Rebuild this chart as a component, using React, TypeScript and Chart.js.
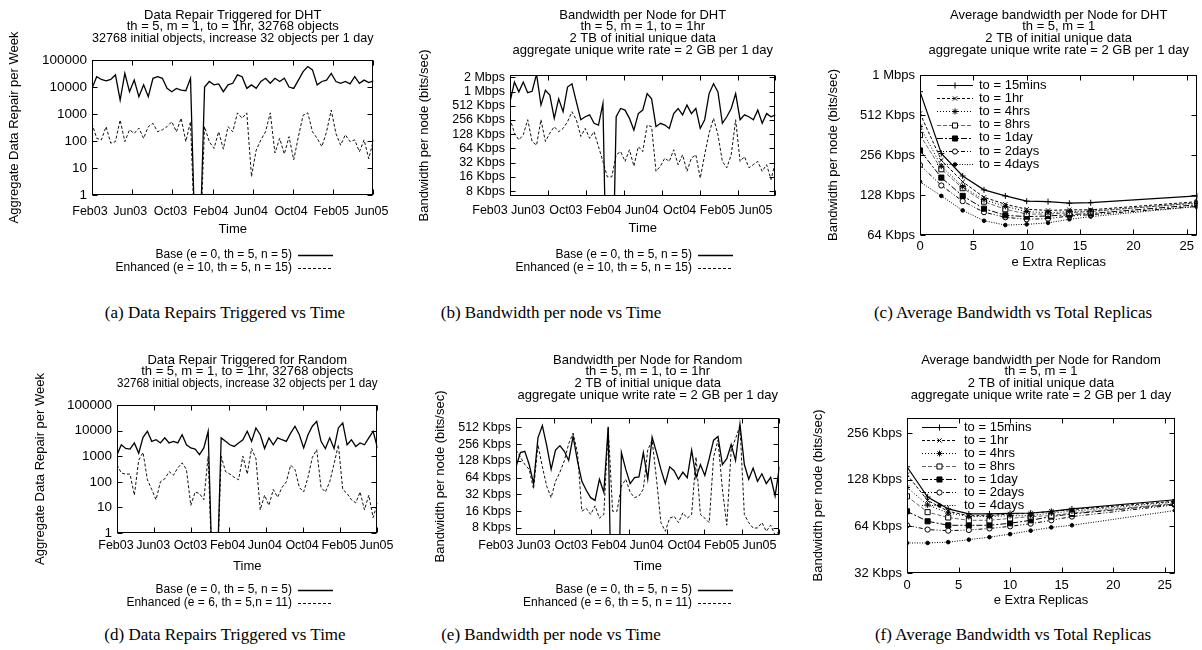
import React, { useEffect, useRef } from "react";
import { Chart, registerables } from "chart.js";

Chart.register(...registerables);

const SANS = "'Liberation Sans', Arial, Helvetica, sans-serif";
const SERIF = "'Liberation Serif', 'Times New Roman', Times, serif";

// ---------------- time axis (months counted from Jan 2003 = 0) ----------------
const timeTickLabels = ["Feb03", "Jun03", "Oct03", "Feb04", "Jun04", "Oct04", "Feb05", "Jun05"];
const timeTickMonths = [1, 5, 9, 13, 17, 21, 25, 29];
const timeAxisMin = 1;
const timeAxisMax = 29;
// sampling grid of the simulation output (61 samples from Feb03 to Jun05)
const sampleMonths = Array.from({ length: 61 }, (_, i) => 1 + (i * 28) / 60);

// value used for weeks where nothing was recorded (falls below the log-axis floor)
const NONE = 0.01;

// ---------------- (a) Data repairs, DHT ----------------
const dhtRepairBase = [8900, 24000, 19000, 17000, 19000, 28000, 3300, 32000, 6700, 18000, 4400, 12000, 4400, 21000, 24000, 21000, 8900, 6700, 8900, 7700, 7300, 21000, NONE, NONE, 10000, 16000, 12000, 13000, 6700, 12000, 13700, 28000, 24000, 8900, 12000, 8900, 16000, 21000, 13700, 21000, 16000, 21000, 10000, 8900, 18000, 37000, 57000, 43000, 12000, 16000, 18000, 32000, 16000, 13700, 16000, 13000, 24000, 13700, 18000, 14500, 17000];
const dhtRepairEnhanced = [450, 125, 110, 340, 83, 95, 600, 95, 260, 190, 300, 125, 340, 450, 220, 260, 340, 520, 220, 700, 95, 520, NONE, NONE, 340, 95, 53, 220, 50, 340, 220, 1100, 700, 1100, 4.8, 46, 110, 220, 1100, 36, 125, 33, 145, 20, 145, 900, 1100, 220, 125, 62, 220, 1400, 190, 70, 170, 95, 110, 40, 110, 22, 110];

// ---------------- (b) Bandwidth per node, DHT (Kbps) ----------------
const dhtBwBase = [620, 1630, 1010, 1630, 970, 1040, 2400, 530, 1090, 860, 278, 720, 383, 1280, 1500, 620, 260, 300, 330, 218, 200, 570, NONE, NONE, 300, 450, 415, 278, 157, 350, 415, 930, 720, 185, 218, 200, 170, 350, 450, 330, 530, 350, 450, 170, 260, 930, 1500, 1010, 218, 300, 450, 930, 260, 330, 300, 260, 415, 218, 350, 300, 330];
const dhtBwEnhanced = [278, 135, 97, 125, 260, 90, 75, 260, 90, 135, 185, 145, 170, 235, 383, 260, 115, 170, 105, 145, 70, 34, 16, 16, 47, 55, 34, 60, 27, 70, 55, 200, 185, 21, 27, 40, 34, 60, 29, 47, 21, 40, 47, 15, 47, 135, 278, 125, 34, 25, 47, 260, 34, 43, 25, 29, 34, 21, 29, 14, 34];

// ---------------- (d) Data repairs, Random ----------------
const randRepairBase = [1150, 2800, 2000, 1900, 3300, 1300, 5500, 9400, 3800, 4400, 3300, 5200, 3300, 3800, 3300, 6900, 2800, 2100, 1900, 1150, 2100, 9400, NONE, NONE, 5200, 3800, 2800, 2400, 3300, 4400, 9400, 3800, 12700, 6900, 2000, 5200, 2800, 5200, 4400, 3800, 8000, 14800, 6900, 2100, 6900, 14800, 23000, 3800, 2000, 5200, 2000, 12700, 20000, 2800, 4400, 2400, 3300, 2800, 5200, 9400, 2100];
const randRepairEnhanced = [460, 220, 200, 200, 30, 700, 1400, 120, 50, 20, 100, 130, 250, 180, 350, 550, 300, 12, 40, 35, 20, 1000, NONE, NONE, 1000, 250, 200, 150, 120, 1000, 200, 2000, 800, 8, 30, 12, 50, 25, 60, 100, 450, 300, 60, 40, 150, 900, 1800, 60, 40, 100, 500, 2800, 50, 35, 20, 15, 40, 8, 30, 4, 15];

// ---------------- (e) Bandwidth per node, Random (Kbps) ----------------
const randBwBase = [100, 180, 190, 110, 50, 330, 550, 240, 90, 200, 240, 190, 130, 350, 128, 55, 38, 28, 25, 60, 35, 520, NONE, NONE, 180, 90, 50, 64, 66, 180, 60, 340, 180, 90, 50, 100, 85, 60, 80, 64, 200, 64, 110, 70, 140, 300, 350, 110, 140, 250, 130, 580, 110, 60, 95, 55, 75, 50, 65, 30, 100];
const randBwEnhanced = [200, 150, 110, 90, 40, 250, 100, 45, 28, 55, 80, 128, 260, 400, 180, 16, 18, 14, 20, 12, 14, 500, 16, 16, 45, 60, 35, 28, 30, 40, 200, 300, 60, 10, 7, 12, 13, 10, 15, 12, 14, 150, 14, 12, 10, 150, 300, 40, 9, 200, 320, 550, 14, 10, 8, 8, 10, 7, 9, 6, 7];

// ---------------- (c)/(f) Average bandwidth vs extra replicas (Kbps) ----------------
const extraReplicas = [0, 2, 4, 6, 8, 10, 12, 14, 16, 26];
const dhtAvg15mins = [767, 263, 178, 140, 126, 115, 114, 111, 112, 126];
const dhtAvg1hr = [526, 234, 161, 123, 109, 100, 98, 99, 99, 114];
const dhtAvg4hrs = [419, 211, 148, 118, 105, 96, 94, 96, 97, 111];
const dhtAvg8hrs = [362, 200, 144, 114, 100, 92, 92, 94, 96, 112];
const dhtAvg1day = [277, 173, 126, 101, 90, 88, 89, 91, 93, 108];
const dhtAvg2days = [215, 151, 115, 95, 87, 84, 85, 89, 91, 105];
const dhtAvg4days = [161, 126, 98, 82, 76, 77, 79, 84, 88, 105];

const randAvg15mins = [155, 99, 83, 77, 77, 77.5, 78, 80, 83, 95];
const randAvg1hr = [138, 94, 80, 75, 75, 77, 77.5, 80, 82, 93];
const randAvg4hrs = [114, 88, 78, 74, 74, 75, 75, 78, 80, 92];
const randAvg8hrs = [100, 79, 73, 70, 70, 72, 74, 75, 78, 90];
const randAvg1day = [80, 69, 65, 65, 65, 67, 70, 74, 77, 89];
const randAvg2days = [65, 61, 60, 60.6, 62, 64, 66.6, 70, 74, 88];
const randAvg4days = [50, 50, 50.6, 52.5, 54.5, 57, 60, 63, 65, 81];

// ---------------- tick labels ----------------
const repairTicks = [1, 10, 100, 1000, 10000, 100000];
const repairTickLabels = ["1", "10", "100", "1000", "10000", "100000"];
const dhtBwTicks = [8, 16, 32, 64, 128, 256, 512, 1024, 2048];
const dhtBwTickLabels = ["8 Kbps", "16 Kbps", "32 Kbps", "64 Kbps", "128 Kbps", "256 Kbps", "512 Kbps", "1 Mbps", "2 Mbps"];
const randBwTicks = [8, 16, 32, 64, 128, 256, 512];
const randBwTickLabels = ["8 Kbps", "16 Kbps", "32 Kbps", "64 Kbps", "128 Kbps", "256 Kbps", "512 Kbps"];
const dhtAvgTicks = [64, 128, 256, 512, 1024];
const dhtAvgTickLabels = ["64 Kbps", "128 Kbps", "256 Kbps", "512 Kbps", "1 Mbps"];
const randAvgTicks = [32, 64, 128, 256];
const randAvgTickLabels = ["32 Kbps", "64 Kbps", "128 Kbps", "256 Kbps"];
const replicaTicks = [0, 5, 10, 15, 20, 25];
const replicaTickLabels = ["0", "5", "10", "15", "20", "25"];

// ---------------- legend labels ----------------
const dhtTimeLegend = ["Base (e = 0, th = 5, n = 5)", "Enhanced (e = 10, th = 5, n = 15)"];
const randRepairLegend = ["Base (e = 0, th = 5, n = 5)", "Enhanced (e = 6, th = 5,n = 11)"];
const randBwLegend = ["Base (e = 0, th = 5, n = 5)", "Enhanced (e = 6, th = 5, n = 11)"];
const timeoutLabels = ["to = 15mins", "to = 1hr", "to = 4hrs", "to = 8hrs", "to = 1day", "to = 2days", "to = 4days"];

// ---------------- styles ----------------
type Style = { dash: number[]; width: number; color: string; point?: string; r?: number; fill?: string };
const baseStyle: Style = { dash: [], width: 1.3, color: "#000" };
const enhStyle: Style = { dash: [3, 2], width: 1, color: "#111" };
const timeoutStyles: Style[] = [
  { dash: [], width: 1.2, color: "#000", point: "cross", r: 3, fill: "#000" },
  { dash: [3, 2], width: 1, color: "#000", point: "crossRot", r: 3, fill: "#000" },
  { dash: [1, 2], width: 1, color: "#000", point: "star", r: 3, fill: "#000" },
  { dash: [4, 2], width: 1, color: "#666", point: "rect", r: 3.6, fill: "#fff" },
  { dash: [6, 2, 2, 2], width: 1, color: "#000", point: "rect", r: 3.6, fill: "#000" },
  { dash: [4, 2, 1, 2, 1, 2], width: 1, color: "#000", point: "circle", r: 2.6, fill: "#fff" },
  { dash: [1, 1.5], width: 1, color: "#000", point: "circle", r: 1.8, fill: "#000" },
];

type Series = { label: string; values: number[]; style: Style };

type LegendSpec =
  | { kind: "below"; textRight: number; x1: number; x2: number; rows: number[]; size: number }
  | { kind: "inside"; x1: number; x2: number; textX: number; row0: number; step: number; size: number };

type PanelSpec = {
  box: { x: number; y: number; w: number; h: number };
  plot: { l: number; t: number; r: number; b: number };
  title: string[];
  titleY: number;
  yTitle: string;
  yTitleX: number;
  xTitle: string;
  xTitleY: number;
  xTickY: number;
  xLabelOffset: number;
  xs: number[];
  xMin: number;
  xMax: number;
  xTicks: number[];
  xTickLabels: string[];
  xTickSize: number;
  yMin: number;
  yMax: number;
  yTicks: number[];
  yTickLabels: string[];
  yTickSize: number;
  series: Series[];
  legend: LegendSpec;
  caption: string;
  captionX: number;
  captionY: number;
};

function drawMarker(ctx: CanvasRenderingContext2D, style: string, x: number, y: number, r: number, fill: string) {
  ctx.save();
  ctx.setLineDash([]);
  ctx.lineWidth = 1;
  ctx.strokeStyle = "#000";
  ctx.fillStyle = fill;
  ctx.beginPath();
  const d = r * Math.SQRT1_2;
  if (style === "cross" || style === "star") {
    ctx.moveTo(x - r, y);
    ctx.lineTo(x + r, y);
    ctx.moveTo(x, y - r);
    ctx.lineTo(x, y + r);
  }
  if (style === "crossRot" || style === "star") {
    ctx.moveTo(x - d, y - d);
    ctx.lineTo(x + d, y + d);
    ctx.moveTo(x - d, y + d);
    ctx.lineTo(x + d, y - d);
  }
  if (style === "cross" || style === "crossRot" || style === "star") {
    ctx.stroke();
  } else if (style === "rect") {
    ctx.rect(x - d, y - d, 2 * d, 2 * d);
    ctx.fill();
    ctx.stroke();
  } else if (style === "circle") {
    ctx.arc(x, y, r, 0, Math.PI * 2);
    ctx.fill();
    ctx.stroke();
  }
  ctx.restore();
}

const gnuplotPlugin = {
  id: "gnuplot",
  afterDraw(chart: any, _args: any, opts: any) {
    const ctx: CanvasRenderingContext2D = chart.ctx;
    const a = chart.chartArea;
    ctx.save();
    ctx.strokeStyle = "#000";
    ctx.lineWidth = 1;
    ctx.setLineDash([]);
    const L = Math.round(a.left) + 0.5;
    const R = Math.round(a.right) - 0.5;
    const T = Math.round(a.top) + 0.5;
    const B = Math.round(a.bottom) - 0.5;
    ctx.strokeRect(L, T, R - L, B - T);
    const tl = 5;
    ctx.beginPath();
    for (const v of opts.xTicks) {
      const px = Math.round(chart.scales.x.getPixelForValue(v)) + 0.5;
      ctx.moveTo(px, B);
      ctx.lineTo(px, B - tl);
      ctx.moveTo(px, T);
      ctx.lineTo(px, T + tl);
    }
    for (const v of opts.yTicks) {
      const py = Math.round(chart.scales.y.getPixelForValue(v)) + 0.5;
      ctx.moveTo(L, py);
      ctx.lineTo(L + tl, py);
      ctx.moveTo(R, py);
      ctx.lineTo(R - tl, py);
    }
    ctx.stroke();

    const lg: LegendSpec = opts.legend;
    const sets = chart.data.datasets;
    ctx.fillStyle = "#000";
    ctx.font = `${lg.size}px ${SANS}`;
    ctx.textBaseline = "middle";
    sets.forEach((ds: any, i: number) => {
      const st: Style = ds._style;
      let y: number;
      if (lg.kind === "below") {
        y = lg.rows[i];
        ctx.textAlign = "right";
        ctx.fillText(ds.label, lg.textRight, y);
      } else {
        y = lg.row0 + i * lg.step;
        ctx.textAlign = "left";
        ctx.fillText(ds.label, lg.textX, y);
      }
      const yy = Math.round(y) + 0.5;
      ctx.save();
      ctx.strokeStyle = st.color;
      ctx.lineWidth = st.width;
      ctx.setLineDash(st.dash);
      ctx.beginPath();
      ctx.moveTo(lg.x1, yy);
      ctx.lineTo(lg.x2, yy);
      ctx.stroke();
      ctx.restore();
      if (st.point) drawMarker(ctx, st.point, (lg.x1 + lg.x2) / 2, yy, st.r || 3, st.fill || "#000");
    });
    ctx.restore();
  },
};

function buildConfig(p: PanelSpec): any {
  const ox = p.box.x;
  const oy = p.box.y;
  const l = p.plot.l - ox;
  const t = p.plot.t - oy;
  const r = p.plot.r - ox;
  const b = p.plot.b - oy;

  const TITLE_SIZE = 13;
  const TITLE_LH = TITLE_SIZE * 0.9;
  const titlePadTop = p.titleY - oy - TITLE_LH / 2;
  const titlePadBottom = t - titlePadTop - p.title.length * TITLE_LH;

  const AXIS_TITLE_SIZE = 13;
  const axisLH = AXIS_TITLE_SIZE * 1.2;
  const xAxisH = p.xTitleY - oy - b + axisLH / 2 + 2;
  const xTickPad = p.xTickY - oy - b - (p.xTickSize * 1.2) / 2;
  const yTitlePad = p.yTitleX - ox - axisLH / 2;

  return {
    type: "line",
    data: {
      datasets: p.series.map((s) => ({
        label: s.label,
        _style: s.style,
        data: p.xs.map((x, i) => ({ x, y: s.values[i] })),
        borderColor: s.style.color,
        borderWidth: s.style.width,
        borderDash: s.style.dash,
        tension: 0,
        fill: false,
        pointStyle: s.style.point || "circle",
        pointRadius: s.style.point ? s.style.r : 0,
        pointBackgroundColor: s.style.fill || "#000",
        pointBorderColor: "#000",
        pointBorderWidth: 1,
        pointHoverRadius: 0,
      })),
    },
    options: {
      responsive: false,
      animation: false,
      devicePixelRatio: 1,
      events: [],
      layout: { padding: { left: 0, top: 0, right: p.box.w - r, bottom: p.box.h - b - xAxisH } },
      plugins: {
        legend: { display: false },
        tooltip: { enabled: false },
        title: {
          display: true,
          fullSize: false,
          text: p.title,
          color: "#000",
          font: { family: SANS, size: TITLE_SIZE, weight: "normal", lineHeight: 0.9 },
          padding: { top: titlePadTop, bottom: titlePadBottom },
        },
        gnuplot: { xTicks: p.xTicks, yTicks: p.yTicks, legend: p.legend },
      },
      scales: {
        x: {
          type: "linear",
          min: p.xMin,
          max: p.xMax,
          bounds: "data",
          afterFit: (s: any) => {
            s.height = xAxisH;
          },
          afterBuildTicks: (s: any) => {
            s.ticks = p.xTicks.map((v) => ({ value: v }));
          },
          ticks: {
            autoSkip: false,
            maxRotation: 0,
            minRotation: 0,
            padding: xTickPad,
            labelOffset: p.xLabelOffset,
            color: "#000",
            font: { family: SANS, size: p.xTickSize },
            callback: (v: number) => {
              const k = p.xTicks.indexOf(v);
              return k >= 0 ? p.xTickLabels[k] : "";
            },
          },
          grid: { display: false, drawTicks: false },
          border: { display: false },
          title: {
            display: true,
            text: p.xTitle,
            color: "#000",
            font: { family: SANS, size: AXIS_TITLE_SIZE },
            padding: { top: 0, bottom: 2 },
          },
        },
        y: {
          type: "logarithmic",
          min: p.yMin,
          max: p.yMax,
          bounds: "data",
          afterFit: (s: any) => {
            s.width = l;
          },
          afterBuildTicks: (s: any) => {
            s.ticks = p.yTicks.map((v) => ({ value: v }));
          },
          ticks: {
            autoSkip: false,
            padding: 5,
            color: "#000",
            font: { family: SANS, size: p.yTickSize },
            callback: (v: number) => {
              const k = p.yTicks.indexOf(v);
              return k >= 0 ? p.yTickLabels[k] : "";
            },
          },
          grid: { display: false, drawTicks: false },
          border: { display: false },
          title: {
            display: true,
            text: p.yTitle,
            color: "#000",
            font: { family: SANS, size: AXIS_TITLE_SIZE },
            padding: { top: yTitlePad, bottom: 0 },
          },
        },
      },
    },
    plugins: [gnuplotPlugin],
  };
}

const timeSeries = (labels: string[], base: number[], enh: number[]): Series[] => [
  { label: labels[0], values: base, style: baseStyle },
  { label: labels[1], values: enh, style: enhStyle },
];
const timeoutSeries = (vals: number[][]): Series[] =>
  vals.map((v, i) => ({ label: timeoutLabels[i], values: v, style: timeoutStyles[i] }));

const bwTitleTail = ["2 TB of initial unique data", "aggregate unique write rate = 2 GB per 1 day"];
const repairTitleTail = ["th = 5, m = 1, to = 1hr, 32768 objects", "32768 initial objects, increase 32 objects per 1 day"];

const timeAxis = {
  xs: sampleMonths,
  xMin: timeAxisMin,
  xMax: timeAxisMax,
  xTicks: timeTickMonths,
  xTickLabels: timeTickLabels,
  xTickSize: 12.5,
  xTitle: "Time",
};
const replicaAxis = {
  xs: extraReplicas,
  xMin: 0,
  xMax: 26,
  xTicks: replicaTicks,
  xTickLabels: replicaTickLabels,
  xTickSize: 13,
  xTitle: "e Extra Replicas",
  xLabelOffset: 0,
};

const panels: PanelSpec[] = [
  {
    ...timeAxis,
    box: { x: 0, y: 0, w: 400, h: 290 },
    plot: { l: 92, t: 60, r: 385, b: 195 },
    title: ["Data Repair Triggered for DHT", ...repairTitleTail],
    titleY: 15,
    yTitle: "Aggregate Data Repair per Week",
    yTitleX: 14,
    xTitleY: 229,
    xTickY: 212,
    xLabelOffset: -2,
    yMin: 1,
    yMax: 100000,
    yTicks: repairTicks,
    yTickLabels: repairTickLabels,
    yTickSize: 13.5,
    series: timeSeries(dhtTimeLegend, dhtRepairBase, dhtRepairEnhanced),
    legend: { kind: "below", textRight: 292, x1: 298, x2: 333, rows: [255, 268], size: 12 },
    caption: "(a) Data Repairs Triggered vs Time",
    captionX: 225,
    captionY: 313,
  },
  {
    ...timeAxis,
    box: { x: 400, y: 0, w: 400, h: 290 },
    plot: { l: 510, t: 75, r: 790, b: 196 },
    title: ["Bandwidth per Node for DHT", "th = 5, m = 1, to = 1hr", ...bwTitleTail],
    titleY: 15,
    yTitle: "Bandwidth per node (bits/sec)",
    yTitleX: 424,
    xTitleY: 228,
    xTickY: 211,
    xLabelOffset: -20,
    yMin: 6.3,
    yMax: 2300,
    yTicks: dhtBwTicks,
    yTickLabels: dhtBwTickLabels,
    yTickSize: 12.5,
    series: timeSeries(dhtTimeLegend, dhtBwBase, dhtBwEnhanced),
    legend: { kind: "below", textRight: 292, x1: 298, x2: 333, rows: [255, 268], size: 12 },
    caption: "(b) Bandwidth per node vs Time",
    captionX: 551,
    captionY: 313,
  },
  {
    ...replicaAxis,
    box: { x: 800, y: 0, w: 402, h: 290 },
    plot: { l: 920, t: 75, r: 1199, b: 235 },
    title: ["Average bandwidth per Node for DHT", "th = 5, m = 1", ...bwTitleTail],
    titleY: 15,
    yTitle: "Bandwidth per node (bits/sec)",
    yTitleX: 833,
    xTitleY: 262,
    xTickY: 246,
    yMin: 64,
    yMax: 1024,
    yTicks: dhtAvgTicks,
    yTickLabels: dhtAvgTickLabels,
    yTickSize: 13,
    series: timeoutSeries([dhtAvg15mins, dhtAvg1hr, dhtAvg4hrs, dhtAvg8hrs, dhtAvg1day, dhtAvg2days, dhtAvg4days]),
    legend: { kind: "inside", x1: 137, x2: 173, textX: 179, row0: 85, step: 13.2, size: 13 },
    caption: "(c) Average Bandwidth vs Total Replicas",
    captionX: 1013,
    captionY: 313,
  },
  {
    ...timeAxis,
    box: { x: 0, y: 325, w: 400, h: 290 },
    plot: { l: 117, t: 405, r: 392, b: 533 },
    title: ["Data Repair Triggered for Random", ...repairTitleTail],
    titleY: 360,
    yTitle: "Aggregate Data Repair per Week",
    yTitleX: 40,
    xTitleY: 566,
    xTickY: 546,
    xLabelOffset: -1,
    yMin: 1,
    yMax: 100000,
    yTicks: repairTicks,
    yTickLabels: repairTickLabels,
    yTickSize: 13.5,
    series: timeSeries(randRepairLegend, randRepairBase, randRepairEnhanced),
    legend: { kind: "below", textRight: 292, x1: 298, x2: 333, rows: [265, 278], size: 12 },
    caption: "(d) Data Repairs Triggered vs Time",
    captionX: 225,
    captionY: 635,
  },
  {
    ...timeAxis,
    box: { x: 400, y: 325, w: 400, h: 290 },
    plot: { l: 516, t: 418, r: 783, b: 535 },
    title: ["Bandwidth per Node for Random", "th = 5, m = 1, to = 1hr", ...bwTitleTail],
    titleY: 360,
    yTitle: "Bandwidth per node (bits/sec)",
    yTitleX: 440,
    xTitleY: 566,
    xTickY: 546,
    xLabelOffset: -20,
    yMin: 6,
    yMax: 750,
    yTicks: randBwTicks,
    yTickLabels: randBwTickLabels,
    yTickSize: 12.5,
    series: timeSeries(randBwLegend, randBwBase, randBwEnhanced),
    legend: { kind: "below", textRight: 292, x1: 298, x2: 333, rows: [265, 278], size: 12 },
    caption: "(e) Bandwidth per node vs Time",
    captionX: 551,
    captionY: 635,
  },
  {
    ...replicaAxis,
    box: { x: 800, y: 325, w: 402, h: 290 },
    plot: { l: 907, t: 418, r: 1175, b: 573 },
    title: ["Average bandwidth per Node for Random", "th = 5, m = 1", ...bwTitleTail],
    titleY: 360,
    yTitle: "Bandwidth per node (bits/sec)",
    yTitleX: 818,
    xTitleY: 600,
    xTickY: 585,
    yMin: 32,
    yMax: 320,
    yTicks: randAvgTicks,
    yTickLabels: randAvgTickLabels,
    yTickSize: 13,
    series: timeoutSeries([randAvg15mins, randAvg1hr, randAvg4hrs, randAvg8hrs, randAvg1day, randAvg2days, randAvg4days]),
    legend: { kind: "inside", x1: 122, x2: 157, textX: 164, row0: 102.3, step: 12.95, size: 13 },
    caption: "(f) Average Bandwidth vs Total Replicas",
    captionX: 1013,
    captionY: 635,
  },
];

function Panel({ spec }: { spec: PanelSpec }) {
  const ref = useRef<HTMLCanvasElement>(null);
  useEffect(() => {
    if (!ref.current) return;
    const chart = new Chart(ref.current, buildConfig(spec));
    return () => chart.destroy();
  }, [spec]);
  return (
    <>
      <canvas
        ref={ref}
        width={spec.box.w}
        height={spec.box.h}
        style={{ position: "absolute", left: spec.box.x, top: spec.box.y, width: spec.box.w, height: spec.box.h }}
      />
      <div
        style={{
          position: "absolute",
          left: spec.captionX - 250,
          top: spec.captionY - 10,
          width: 500,
          textAlign: "center",
          fontFamily: SERIF,
          fontSize: 17,
          lineHeight: "20px",
          color: "#000",
          whiteSpace: "nowrap",
        }}
      >
        {spec.caption}
      </div>
    </>
  );
}

export default function App() {
  return (
    <div style={{ position: "absolute", left: 0, top: 0, width: 1202, height: 650, background: "#fff", overflow: "hidden" }}>
      {panels.map((p, i) => (
        <Panel key={i} spec={p} />
      ))}
    </div>
  );
}
